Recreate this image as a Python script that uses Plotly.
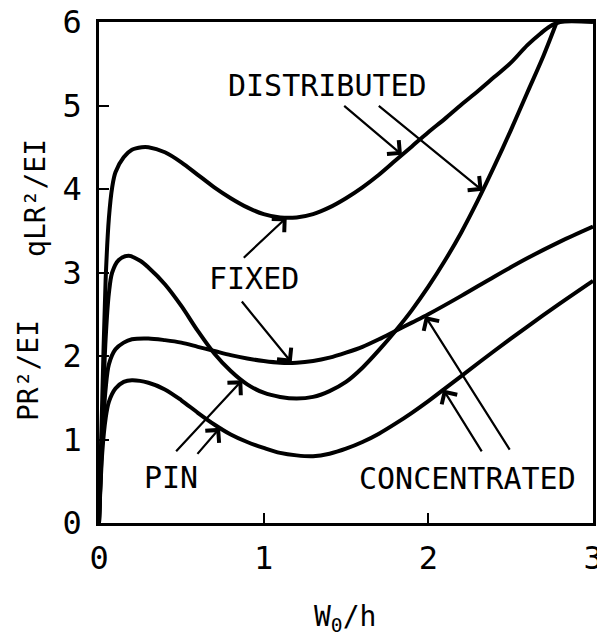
import plotly.graph_objects as go

# Buckling load vs. initial rise W0/h for shallow arches
# distributed load (qLR^2/EI) and concentrated load (PR^2/EI), fixed and pin supports

fixed_dist_x = [0, 0.02, 0.04, 0.06, 0.08, 0.10, 0.15, 0.20, 0.26, 0.30, 0.40, 0.50, 0.60, 0.70,
                0.80, 0.90, 1.00, 1.10, 1.20, 1.30, 1.40, 1.50, 1.60, 1.70, 1.80, 1.90, 2.00, 2.10,
                2.20, 2.30, 2.40, 2.50, 2.60, 2.68, 2.74, 2.80, 3.00]
fixed_dist_y = [0, 1.5, 2.9, 3.65, 4.02, 4.20, 4.38, 4.47, 4.50, 4.50, 4.44, 4.32, 4.17, 4.02,
                3.89, 3.78, 3.70, 3.66, 3.66, 3.70, 3.78, 3.89, 4.02, 4.17, 4.34, 4.51, 4.68, 4.84,
                5.01, 5.17, 5.34, 5.51, 5.72, 5.86, 5.95, 6.00, 6.00]

pin_dist_x = [0, 0.02, 0.04, 0.06, 0.08, 0.12, 0.18, 0.25, 0.30, 0.40, 0.50, 0.60, 0.70, 0.80,
              0.90, 1.00, 1.10, 1.20, 1.30, 1.40, 1.50, 1.60, 1.70, 1.80, 1.90, 2.00, 2.10, 2.20,
              2.30, 2.40, 2.50, 2.60, 2.70, 2.78]
pin_dist_y = [0, 1.2, 2.2, 2.75, 3.00, 3.15, 3.20, 3.14, 3.06, 2.86, 2.60, 2.30, 2.03, 1.82,
              1.66, 1.56, 1.51, 1.49, 1.51, 1.58, 1.69, 1.86, 2.07, 2.30, 2.55, 2.83, 3.14, 3.48,
              3.86, 4.27, 4.70, 5.15, 5.60, 6.00]

fixed_conc_x = [0, 0.02, 0.04, 0.06, 0.10, 0.15, 0.20, 0.30, 0.40, 0.50, 0.60, 0.70, 0.80, 0.90,
                1.00, 1.10, 1.20, 1.30, 1.40, 1.50, 1.60, 1.70, 1.80, 1.90, 2.00, 2.20, 2.40, 2.60,
                2.80, 3.00]
fixed_conc_y = [0, 1.0, 1.6, 1.9, 2.08, 2.16, 2.20, 2.21, 2.19, 2.16, 2.11, 2.06, 2.01, 1.97,
                1.94, 1.92, 1.92, 1.94, 1.98, 2.04, 2.11, 2.20, 2.30, 2.40, 2.50, 2.72, 2.95, 3.17,
                3.37, 3.55]

pin_conc_x = [0, 0.02, 0.04, 0.06, 0.10, 0.15, 0.20, 0.30, 0.40, 0.50, 0.60, 0.70, 0.80, 0.90,
              1.00, 1.10, 1.20, 1.30, 1.40, 1.50, 1.60, 1.70, 1.80, 1.90, 2.00, 2.10, 2.20, 2.40,
              2.60, 2.80, 3.00]
pin_conc_y = [0, 0.85, 1.25, 1.45, 1.61, 1.69, 1.71, 1.68, 1.60, 1.47, 1.32, 1.18, 1.06, 0.97,
              0.90, 0.84, 0.81, 0.80, 0.83, 0.89, 0.97, 1.07, 1.19, 1.32, 1.46, 1.61, 1.76, 2.06,
              2.35, 2.63, 2.90]

x_ticks = [0, 1, 2, 3]
y_ticks = [0, 1, 2, 3, 4, 5, 6]

# label text, position
labels = [
    ("DISTRIBUTED", 1.39, 5.24),
    ("FIXED", 0.94, 2.93),
    ("PIN", 0.44, 0.55),
    ("CONCENTRATED", 2.24, 0.53),
]

# arrows: (tail x, tail y, tip x, tip y)
arrows = [
    (1.48, 5.01, 1.84, 4.41),
    (1.69, 5.01, 2.33, 3.98),
    (0.87, 3.16, 1.14, 3.66),
    (0.86, 2.67, 1.17, 1.92),
    (0.46, 0.84, 0.87, 1.71),
    (0.59, 0.81, 0.735, 1.14),
    (2.50, 0.86, 1.98, 2.48),
    (2.33, 0.84, 2.09, 1.60),
]

FONT = "DejaVu Sans Mono"

fig = go.Figure()
for xs, ys in [(fixed_dist_x, fixed_dist_y), (pin_dist_x, pin_dist_y),
               (fixed_conc_x, fixed_conc_y), (pin_conc_x, pin_conc_y)]:
    fig.add_trace(go.Scatter(x=xs, y=ys, mode="lines",
                             line=dict(color="black", width=4, shape="spline", smoothing=0.9),
                             showlegend=False, hoverinfo="skip"))

annotations = []
for text, x, y in labels:
    annotations.append(dict(x=x, y=y, xref="x", yref="y", text=text, showarrow=False,
                            font=dict(family=FONT, size=30, color="black"),
                            xanchor="center", yanchor="middle"))
for tx, ty, hx, hy in arrows:
    annotations.append(dict(x=hx, y=hy, ax=tx, ay=ty, xref="x", yref="y", axref="x", ayref="y",
                            text="", showarrow=True, arrowhead=4, arrowsize=1.6, arrowwidth=2.2,
                            arrowcolor="black", standoff=0))

annotations += [
    dict(x=-0.13, y=3.89, xref="paper", yref="y", text="qLR²/EI", textangle=-90, showarrow=False,
         font=dict(family=FONT, size=28, color="black"), xanchor="center", yanchor="middle"),
    dict(x=-0.144, y=1.83, xref="paper", yref="y", text="PR²/EI", textangle=-90, showarrow=False,
         font=dict(family=FONT, size=28, color="black"), xanchor="center", yanchor="middle"),
    dict(x=0.498, y=-0.19, xref="paper", yref="paper", text="W<sub>0</sub>/h", showarrow=False,
         font=dict(family=FONT, size=28, color="black"), xanchor="center", yanchor="middle"),
]

fig.update_layout(
    width=597, height=636,
    margin=dict(l=99, r=4, t=22, b=113, autoexpand=False),
    paper_bgcolor="white", plot_bgcolor="white",
    annotations=annotations,
    xaxis=dict(range=[0, 3], tickvals=x_ticks, ticktext=[str(v) for v in x_ticks],
               showgrid=False, zeroline=False, showline=True, mirror=True, automargin=False,
               linecolor="black", linewidth=2.5, ticks="inside", ticklen=10, tickwidth=2,
               tickcolor="black", ticklabelstandoff=5, ticklabeloverflow="allow",
               tickfont=dict(family=FONT, size=32, color="black")),
    yaxis=dict(range=[0, 6], tickvals=y_ticks, ticktext=[str(v) for v in y_ticks],
               showgrid=False, zeroline=False, showline=True, mirror=True, automargin=False,
               linecolor="black", linewidth=2.5, ticks="inside", ticklen=10, tickwidth=2,
               tickcolor="black", ticklabelstandoff=8, ticklabeloverflow="allow",
               tickfont=dict(family=FONT, size=32, color="black")),
)

fig.write_html("out.html")
